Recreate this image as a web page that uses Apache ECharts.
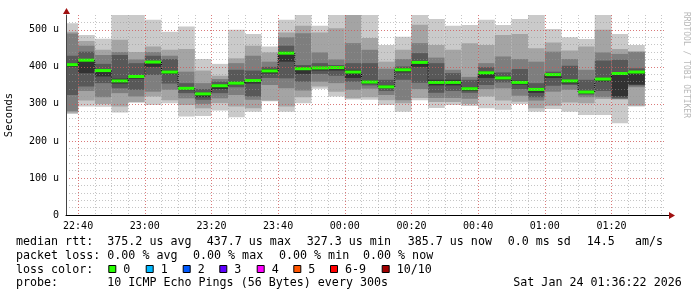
<!DOCTYPE html>
<html>
<head>
<meta charset="utf-8">
<script src="https://cdn.jsdelivr.net/npm/echarts@6/dist/echarts.min.js"></script>
<style>
html,body{margin:0;padding:0;background:#fff;}
#chart{width:697px;height:297px;}
</style>
</head>
<body>
<div id="chart"></div>
<script>
// ---------- DATA ----------
// 5-minute bins (start time of each bin)
const barStarts = ['22:35','22:40','22:45','22:50','22:55','23:00','23:05','23:10','23:15','23:20',
  '23:25','23:30','23:35','23:40','23:45','23:50','23:55','00:00','00:05','00:10',
  '00:15','00:20','00:25','00:30','00:35','00:40','00:45','00:50','00:55','01:00',
  '01:05','01:10','01:15','01:20','01:25'];
// median rtt per bin (microseconds)
const medians = [406,418,390,362,374,413,386,342,327,349,
  356,363,389,437,395,397,398,386,359,346,
  392,412,358,358,341,384,370,358,339,379,
  362,332,367,382,386];
// the 10 sorted ping rtts per bin (microseconds)
const pings = [
  [273,276,280,324,400,410,430,490,495,518],
  [293,309,335,347,383,421,441,457,470,486],
  [292,300,318,356,374,393,408,432,446,476],
  [277,293,329,342,355,368,432,440,473,540],
  [303,305,320,338,368,378,410,420,440,543],
  [297,320,333,378,400,410,430,440,455,527],
  [302,310,338,355,380,390,421,430,446,495],
  [266,297,315,329,337,345,356,387,448,509],
  [267,288,300,311,318,330,340,356,390,421],
  [282,302,315,329,340,352,360,367,376,408],
  [264,293,324,345,352,360,392,410,423,500],
  [279,288,311,320,355,366,390,430,457,489],
  [307,309,351,370,382,394,400,414,439,455],
  [279,293,342,369,414,441,457,480,493,527],
  [302,318,336,360,381,400,405,491,511,540],
  [341,347,360,381,390,400,410,439,493,511],
  [320,333,356,376,390,402,405,420,504,540],
  [312,315,338,360,370,392,410,464,540,542],
  [311,318,341,350,355,363,410,446,478,540],
  [297,310,324,335,342,350,365,395,414,459],
  [279,302,310,365,385,395,401,421,446,481],
  [310,316,340,357,400,416,437,464,514,540],
  [289,305,316,330,350,365,410,425,459,529],
  [297,305,316,335,350,365,383,392,446,511],
  [294,300,314,330,335,345,365,373,464,513],
  [288,320,340,351,370,388,399,410,459,527],
  [284,309,342,358,365,374,385,428,486,513],
  [300,306,322,340,352,363,394,421,489,529],
  [279,288,309,318,330,340,356,414,450,540],
  [286,295,333,349,370,380,387,441,466,502],
  [279,304,338,351,355,365,403,421,444,480],
  [270,302,318,325,328,335,365,392,455,475],
  [270,313,318,335,360,370,417,439,500,540],
  [248,312,313,315,320,383,419,435,448,489],
  [293,295,345,350,352,386,396,441,441,459]
];
const majorTickLabels = ['22:40','23:00','23:20','23:40','00:00','00:20','00:40','01:00','01:20'];
const minorTickTimes = ['22:40','22:45','22:50','22:55','23:00','23:05','23:10','23:15','23:20','23:25',
  '23:30','23:35','23:40','23:45','23:50','23:55','00:00','00:05','00:10','00:15','00:20','00:25',
  '00:30','00:35','00:40','00:45','00:50','00:55','01:00','01:05','01:10','01:15','01:20','01:25',
  '01:30','01:35'];
const yTicks = [0,100,200,300,400,500];
const windowStart = '22:36:22';
const windowEnd = '01:36:22';
const medianLegend = ['median rtt:','375.2 us avg','437.7 us max','327.3 us min','385.7 us now','0.0 ms sd','14.5','am/s'];
const lossLegend = ['packet loss:','0.00 % avg','0.00 % max','0.00 % min','0.00 % now'];
const lossColorLabels = ['0','1','2','3','4','5','6-9','10/10'];
const lossColors = ['#26ff00','#00b8ff','#0059ff','#5e00ff','#ff00ff','#ff5500','#ff0000','#a10000'];
const probeLegend = ['probe:','10 ICMP Echo Pings (56 Bytes) every 300s','Sat Jan 24 01:36:22 2026'];
const credit = 'RRDTOOL / TOBI OETIKER';

// ---------- HELPERS ----------
function toMs(hm){
  const p = hm.split(':').map(Number);
  const h = p[0], m = p[1], s = p[2]||0;
  const day = h >= 12 ? 23 : 24;
  return Date.UTC(2026,0,day,h,m,s);
}
const STEP = 5*60*1000;
const T0 = toMs(windowStart), T1 = toMs(windowEnd);
const fmt = v => { const d = new Date(v); return String(d.getUTCHours()).padStart(2,'0')+':'+String(d.getUTCMinutes()).padStart(2,'0'); };
const majorMs = majorTickLabels.map(toMs);
const minorMs = minorTickTimes.map(toMs);
const seriesData = barStarts.map((t,i)=>{ const s = toMs(t); return [s, s+STEP].concat(pings[i]).concat([medians[i]]); });
const smokeColors = ['#cacaca','#a4a4a4','#7e7e7e','#585858','#323232'];
const MONO = 'DejaVu Sans Mono';

// ---------- CHART ----------
const chart = echarts.init(document.getElementById('chart'), null, {renderer:'canvas'});
const graphics = [];
const line1X = [16,107.3,206.7,306.7,407.7,507.7,586.7,635];
medianLegend.forEach((t,i)=>graphics.push({type:'text',x:line1X[i],y:241.9,style:{text:t,font:'11.66px '+MONO,fill:'#000',verticalAlign:'middle'}}));
const line2X = [16,107.3,193,279,363];
lossLegend.forEach((t,i)=>graphics.push({type:'text',x:line2X[i],y:255.6,style:{text:t,font:'11.66px '+MONO,fill:'#000',verticalAlign:'middle'}}));
graphics.push({type:'text',x:16,y:269.6,style:{text:'loss color:',font:'11.66px '+MONO,fill:'#000',verticalAlign:'middle'}});
const boxX = [108.3,145.7,182.7,219.3,256.7,293.3,330,381.7];
lossColorLabels.forEach((t,i)=>{
  graphics.push({type:'rect',shape:{x:boxX[i]+0.5,y:265.5,width:7,height:7},style:{fill:lossColors[i],stroke:'#000',lineWidth:1}});
  graphics.push({type:'text',x:boxX[i]+15,y:269.6,style:{text:t,font:'11.66px '+MONO,fill:'#000',verticalAlign:'middle'}});
});
const line4X = [16,107.3,513.3];
probeLegend.forEach((t,i)=>graphics.push({type:'text',x:line4X[i],y:283.3,style:{text:t,font:'11.66px '+MONO,fill:'#000',verticalAlign:'middle'}}));
graphics.push({type:'text',x:685.8,y:65,rotation:-Math.PI/2,style:{text:credit,font:'8px '+MONO,fill:'#b8b8b8',align:'center',verticalAlign:'middle'}});
// axis arrows
graphics.push({type:'line',shape:{x1:666,y1:215.5,x2:670,y2:215.5},style:{stroke:'#000',lineWidth:1}});
graphics.push({type:'polygon',shape:{points:[[669,212],[675,215.5],[669,219]]},style:{fill:'#a01010'}});
graphics.push({type:'polygon',shape:{points:[[63,14],[66.5,8],[70,14]]},style:{fill:'#a01010'}});

const option = {
  animation:false,
  backgroundColor:'#fff',
  grid:{left:66,right:31,top:15,bottom:82,containLabel:false,outerBoundsMode:'none'},
  xAxis:[
    {type:'value',min:T0,max:T1,z:4,
     axisLine:{show:true,lineStyle:{color:'#000',width:1}},
     axisTick:{show:false,customValues:majorMs},
     axisLabel:{customValues:majorMs,formatter:fmt,margin:6,fontFamily:MONO,fontSize:10,color:'#000'},
     splitLine:{show:true,lineStyle:{color:'rgba(235,60,60,0.55)',type:[1,2],width:1}}},
    {type:'value',min:T0,max:T1,z:3,position:'bottom',
     axisLine:{show:false},axisTick:{show:false,customValues:minorMs},axisLabel:{show:false},
     splitLine:{show:true,lineStyle:{color:'rgba(150,150,150,0.55)',type:[1,2],width:1}}}
  ],
  yAxis:[
    {type:'value',min:0,max:540,interval:100,z:4,
     name:'Seconds',nameLocation:'middle',nameGap:51,
     nameTextStyle:{fontFamily:MONO,fontSize:10.5,color:'#000'},
     axisLine:{show:true,lineStyle:{color:'#444',width:1}},
     axisTick:{show:false},
     axisLabel:{showMaxLabel:false,margin:7,fontFamily:MONO,fontSize:10,color:'#000',
       formatter:v=> yTicks.indexOf(v)<0 ? '' : (v===0?'0':v+' u')},
     splitLine:{show:true,showMinLine:false,showMaxLine:false,lineStyle:{color:'rgba(235,60,60,0.55)',type:[1,2],width:1}}},
    {type:'value',min:0,max:540,interval:20,z:3,position:'left',
     axisLine:{show:false},axisTick:{show:false},axisLabel:{show:false},
     splitLine:{show:true,showMinLine:false,showMaxLine:false,lineStyle:{color:'rgba(150,150,150,0.55)',type:[1,2],width:1}}}
  ],
  series:[{
    type:'custom',
    xAxisIndex:0,yAxisIndex:0,
    clip:true,
    encode:{x:[0,1],y:[2,3,4,5,6,7,8,9,10,11,12]},
    data:seriesData,
    renderItem:function(params,api){
      const x0 = api.coord([api.value(0),0])[0];
      const x1 = api.coord([api.value(1),0])[0];
      const children = [];
      for(let k=0;k<5;k++){
        const lo = api.coord([api.value(0),api.value(2+k)])[1];
        const hi = api.coord([api.value(0),api.value(11-k)])[1];
        children.push({type:'rect',shape:{x:x0,y:hi,width:x1-x0,height:lo-hi},style:{fill:smokeColors[k]}});
      }
      const my = api.coord([api.value(0),api.value(12)])[1];
      const i = params.dataIndex;
      if(i>0){
        const py = api.coord([api.value(0),medians[i-1]])[1];
        children.push({type:'line',shape:{x1:x0,y1:py,x2:x0,y2:my},style:{stroke:'#000',lineWidth:1,lineDash:[1,1]}});
      }
      children.push({type:'rect',shape:{x:x0,y:my-1.5,width:x1-x0,height:3},style:{fill:lossColors[0]}});
      return {type:'group',children:children};
    }
  }],
  graphic:graphics
};
chart.setOption(option);
</script>
</body>
</html>
